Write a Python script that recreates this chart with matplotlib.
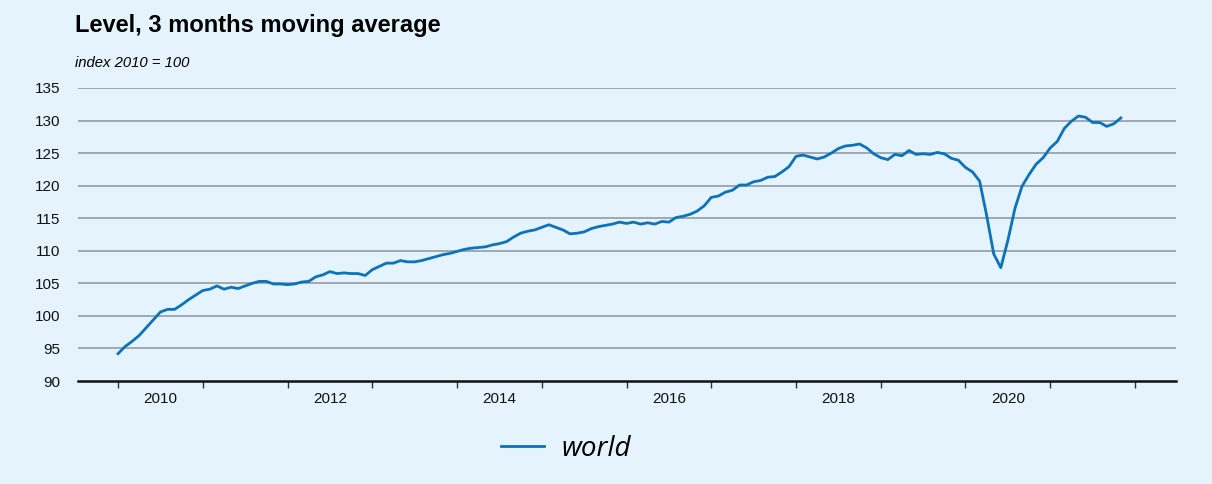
import numpy as np
import matplotlib
matplotlib.use('Agg')
import matplotlib.pyplot as plt

plt.rcParams['font.family'] = ['Liberation Sans', 'DejaVu Sans']

# monthly values, Jan 2010 .. Nov 2021 (3 months moving average, index 2010 = 100)
start_year = 2010
world = [
    94.2, 95.3, 96.1, 97.0, 98.2, 99.4, 100.6, 101.0, 101.0, 101.7, 102.5, 103.2,
    103.9, 104.1, 104.6, 104.1, 104.4, 104.2, 104.6, 105.0, 105.3, 105.3, 104.9, 104.9,
    104.8, 104.9, 105.2, 105.3, 106.0, 106.3, 106.8, 106.5, 106.6, 106.5, 106.5, 106.2,
    107.1, 107.6, 108.1, 108.1, 108.5, 108.3, 108.3, 108.5, 108.8, 109.1, 109.4, 109.6,
    109.9, 110.2, 110.4, 110.5, 110.6, 110.9, 111.1, 111.4, 112.1, 112.7, 113.0, 113.2,
    113.6, 114.0, 113.6, 113.2, 112.6, 112.7, 112.9, 113.4, 113.7, 113.9, 114.1, 114.4,
    114.2, 114.4, 114.1, 114.3, 114.1, 114.5, 114.4, 115.1, 115.3, 115.6, 116.1, 116.9,
    118.2, 118.4, 119.0, 119.3, 120.1, 120.1, 120.6, 120.8, 121.3, 121.4, 122.1, 122.9,
    124.5, 124.7, 124.4, 124.1, 124.4, 125.0, 125.7, 126.1, 126.2, 126.4, 125.8, 124.9,
    124.3, 124.0, 124.8, 124.6, 125.4, 124.8, 124.9, 124.8, 125.1, 124.9, 124.2, 123.9,
    122.8, 122.1, 120.7, 115.4, 109.5, 107.4, 111.6, 116.5, 119.9, 121.7, 123.3, 124.3,
    125.8, 126.8, 128.8, 129.9, 130.7, 130.5, 129.7, 129.7, 129.1, 129.5, 130.4,
]
y_ticks = [90, 95, 100, 105, 110, 115, 120, 125, 130, 135]
year_labels = [2010, 2012, 2014, 2016, 2018, 2020]

bg = '#E4F3FC'
blue = '#0B72BB'

t = start_year + np.arange(len(world)) / 12.0

fig = plt.figure(figsize=(12.12, 4.84), dpi=100, facecolor=bg)
ax = fig.add_axes([0.0644, 0.2128, 0.9059, 0.6054], facecolor=bg)

ax.plot(t, world, color=blue, lw=2.0, label='world', zorder=3)

ax.set_ylim(90, 135)
ax.set_xlim(2009.528, 2022.484)
ax.set_yticks(y_ticks)
ax.set_yticklabels([str(v) for v in y_ticks])
for v in y_ticks[1:]:
    ax.axhline(v, color='#98A3AC', lw=1.3, zorder=1)

# ticks at year boundaries, labels in mid-year
ax.set_xticks(np.arange(2010, 2023))
ax.set_xticklabels([])
ax.set_xticks([y + 0.5 for y in year_labels], minor=True)
ax.set_xticklabels([str(y) for y in year_labels], minor=True)
ax.tick_params(axis='x', which='major', length=5, width=1, color='#333333', direction='out')
ax.tick_params(axis='x', which='minor', length=0, pad=8, labelsize=11, labelcolor='#111111')
ax.tick_params(axis='y', length=0, pad=13, labelsize=11, labelcolor='#111111')

for s in ['top', 'right', 'left']:
    ax.spines[s].set_visible(False)
ax.spines['bottom'].set_color('#111111')
ax.spines['bottom'].set_linewidth(1.8)

fig.text(75 / 1212, 1 - 32 / 484, 'Level, 3 months moving average',
         fontsize=17, fontweight='bold', ha='left', va='baseline')
fig.text(75 / 1212, 1 - 67 / 484, 'index 2010 = 100',
         fontsize=10.7, style='italic', ha='left', va='baseline')

leg = fig.legend(loc='center', bbox_to_anchor=(0.467, 0.072), frameon=False,
                 handlelength=1.55, handletextpad=0.6,
                 prop={'family': 'Open Sans', 'style': 'italic', 'size': 20})

fig.savefig('out.png', dpi=100, facecolor=bg)
